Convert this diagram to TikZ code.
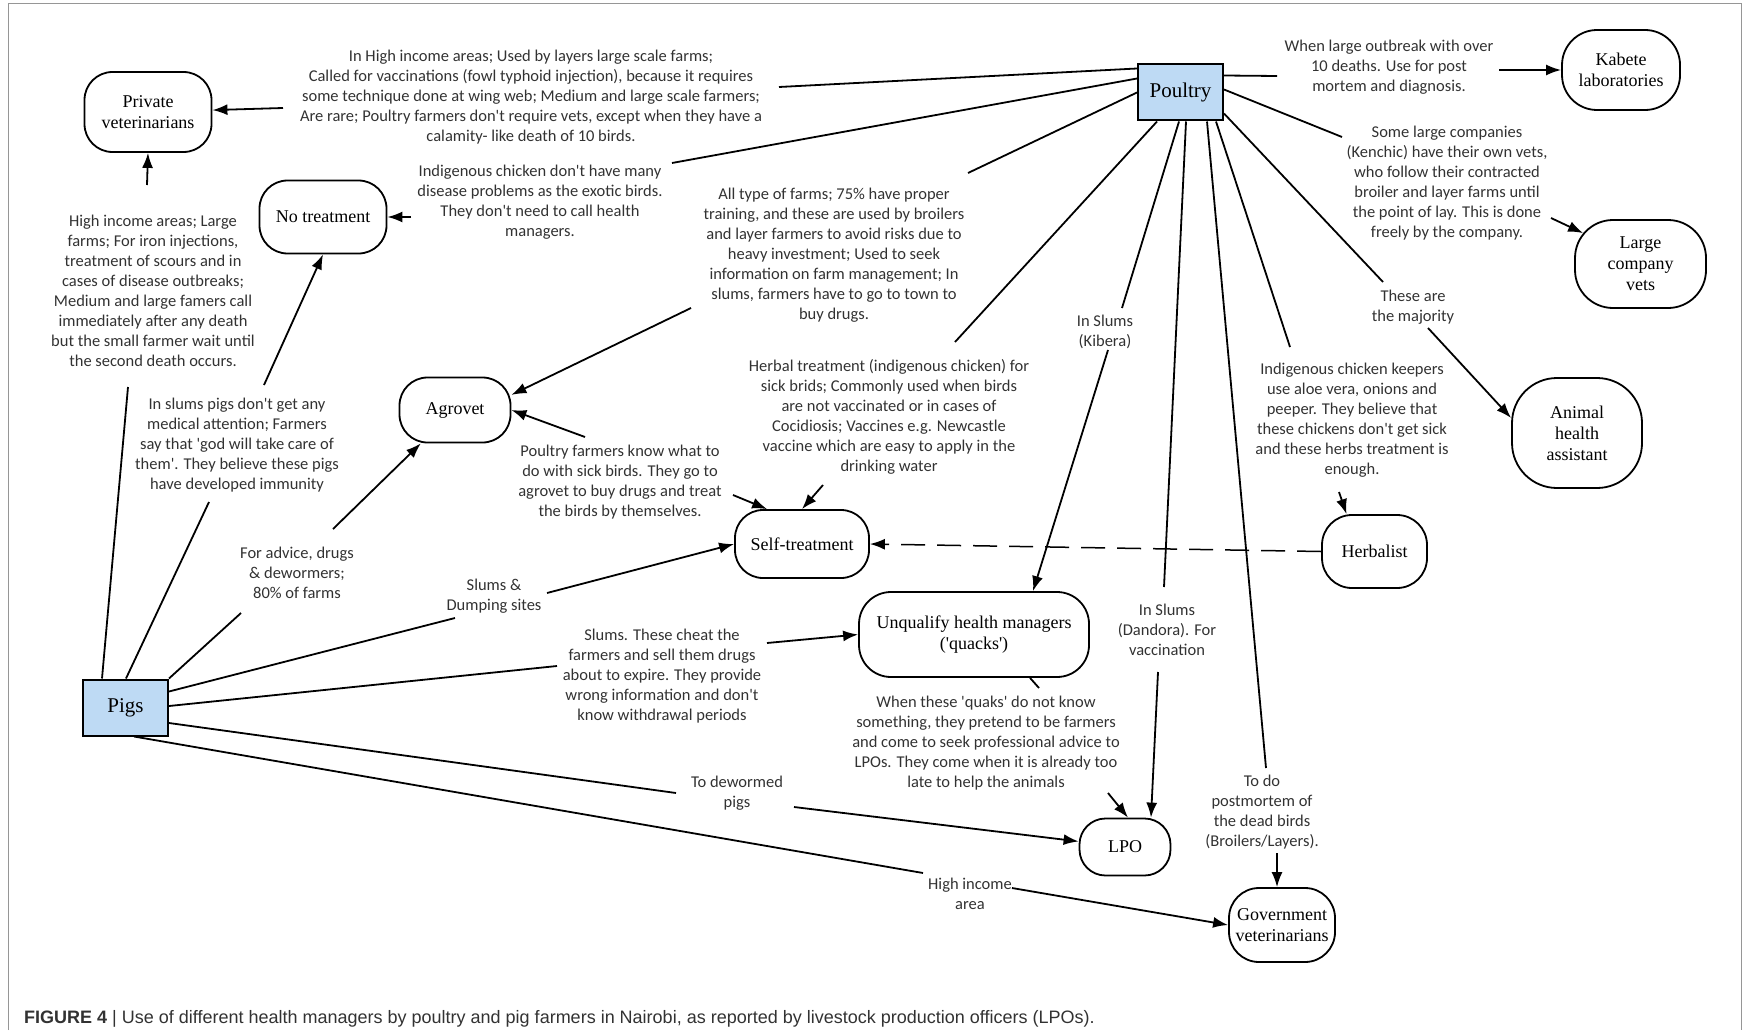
\documentclass[tikz,border=0pt]{standalone}
\usepackage{fontspec}
\setmainfont{Carlito}
\newfontfamily\nodefont{Liberation Serif}
\newfontfamily\capfont{Liberation Sans}
\usetikzlibrary{arrows.meta,calc}
\definecolor{boxblue}{RGB}{190,218,244}
\definecolor{labgray}{RGB}{50,50,50}
\definecolor{framegray}{RGB}{150,150,150}
\newcommand{\aps}{\textquotesingle}
\begin{document}
\begin{tikzpicture}[x=1pt,y=-1pt,
  lab/.style={font=\fontsize{16.5}{20}\selectfont, text=labgray, align=center, inner sep=0pt},
  hm/.style={draw, line width=1.8pt, font=\nodefont\fontsize{18}{21}\selectfont, align=center, inner sep=0pt, rectangle},
  src/.style={draw, line width=2pt, fill=boxblue, font=\nodefont\fontsize{21}{24}\selectfont, inner sep=0pt, minimum width=85pt, minimum height=56pt},
  conn/.style={line width=1.8pt},
  arr/.style={line width=1.8pt, -{Latex[length=15pt,width=11pt]}},
  dasharr/.style={line width=1.5pt, dash pattern=on 24pt off 12pt, -{Latex[length=15pt,width=11pt]}},
]
\useasboundingbox (0,0) rectangle (1744,1030);
\draw[framegray, line width=1pt] (8,1030) -- (8,4) -- (1741,4) -- (1741,1030);

% source boxes
\node[src] (poultry) at (1180.5,92.5) {Poultry};
\node[src] (pigs) at (125.5,707.5) {Pigs};

% health managers
\node[hm, minimum width=127pt, minimum height=80pt, rounded corners=28pt] (privvet) at (148,112) {Private\\veterinarians};
\node[hm, minimum width=127pt, minimum height=73pt, rounded corners=28pt] (notreat) at (323,217) {No treatment};
\node[hm, minimum width=111pt, minimum height=65pt, rounded corners=28pt] (agrovet) at (455,410) {Agrovet};
\node[hm, minimum width=134pt, minimum height=68pt, rounded corners=28pt] (selftreat) at (802,544) {Self-treatment};
\node[hm, minimum width=230pt, minimum height=85pt, rounded corners=32pt] (quacks) at (974,634.5) {Unqualify health managers\\(\aps quacks\aps)};
\node[hm, minimum width=91pt, minimum height=57pt, rounded corners=26pt] (lpo) at (1125,847) {LPO};
\node[hm, minimum width=106pt, minimum height=74pt, rounded corners=30pt] (govvet) at (1282,925) {Government\\veterinarians};
\node[hm, minimum width=105pt, minimum height=73pt, rounded corners=30pt] (herbalist) at (1374.5,551.5) {Herbalist};
\node[hm, minimum width=130pt, minimum height=110pt, rounded corners=45pt] (aha) at (1577,433) {Animal\\health\\assistant};
\node[hm, minimum width=131pt, minimum height=88pt, rounded corners=38pt] (lcv) at (1640.5,264) {Large\\company\\vets};
\node[hm, minimum width=118pt, minimum height=80pt, rounded corners=35pt] (kabete) at (1621,70) {Kabete\\laboratories};

% labels
\node[lab] (t1) at (531,97) {In High income areas; Used by layers large scale farms;\\Called for vaccinations (fowl typhoid injection), because it requires\\some technique done at wing web; Medium and large scale farmers;\\Are rare; Poultry farmers don\aps t require vets, except when they have a\\calamity- like death of 10 birds.};
\node[lab] (t2) at (540,202) {Indigenous chicken don\aps t have many\\disease problems as the exotic birds.\\They don\aps t need to call health\\managers.};
\node[lab] (t3) at (834,255) {All type of farms; 75\% have proper\\training, and these are used by broilers\\and layer farmers to avoid risks due to\\heavy investment; Used to seek\\information on farm management; In\\slums, farmers have to go to town to\\buy drugs.};
\node[lab] (t4) at (1105,332) {In Slums\\(Kibera)};
\node[lab] (t5) at (889,417) {Herbal treatment (indigenous chicken) for\\sick brids; Commonly used when birds\\are not vaccinated or in cases of\\Cocidiosis; Vaccines e.g. Newcastle\\vaccine which are easy to apply in the\\drinking water};
\node[lab] (t6) at (620,482) {Poultry farmers know what to\\do with sick birds. They go to\\agrovet to buy drugs and treat\\the birds by themselves.};
\node[lab] (t7) at (153,291) {High income areas; Large\\farms; For iron injections,\\treatment of scours and in\\cases of disease outbreaks;\\Medium and large famers call\\immediately after any death\\but the small farmer wait until\\the second death occurs.};
\node[lab] (t8) at (237,445) {In slums pigs don\aps t get any\\medical attention; Farmers\\say that \aps god will take care of\\them\aps . They believe these pigs\\have developed immunity};
\node[lab] (t9) at (297,573) {For advice, drugs\\\& dewormers;\\80\% of farms};
\node[lab] (t10) at (494,596) {Slums \&\\Dumping sites};
\node[lab] (t11) at (662,676) {Slums. These cheat the\\farmers and sell them drugs\\about to expire. They provide\\wrong information and don\aps t\\know withdrawal periods};
\node[lab] (t12) at (986,743) {When these \aps quaks\aps\ do not know\\something, they pretend to be farmers\\and come to seek professional advice to\\LPOs. They come when it is already too\\late to help the animals};
\node[lab] (t13) at (737,793) {To dewormed\\pigs};
\node[lab] (t14) at (1167,630) {In Slums\\(Dandora). For\\vaccination};
\node[lab] (t15) at (1262,812) {To do\\postmortem of\\the dead birds\\(Broilers/Layers).};
\node[lab] (t16) at (970,894) {High income\\area};
\node[lab] (t17) at (1352,420) {Indigenous chicken keepers\\use aloe vera, onions and\\peeper. They believe that\\these chickens don\aps t get sick\\and these herbs treatment is\\enough.};
\node[lab] (t18) at (1413,307) {These are\\the majority};
\node[lab] (t19) at (1447,183) {Some large companies\\(Kenchic) have their own vets,\\who follow their contracted\\broiler and layer farms until\\the point of lay. This is done\\freely by the company.};
\node[lab] (t20) at (1389,67) {When large outbreak with over\\10 deaths. Use for post\\mortem and diagnosis.};

% free ends of connectors
\coordinate (e1) at (779,87);
\coordinate (e2) at (672,163);
\coordinate (e3) at (968,173);
\coordinate (e4) at (955,342);
\coordinate (e5) at (1122,308);
\coordinate (e6) at (1164,587);
\coordinate (e7) at (1266,768);
\coordinate (e8) at (1290,347);
\coordinate (e9) at (1383,282);
\coordinate (e10) at (1342,137);
\coordinate (e11) at (1277,76);
\coordinate (s1) at (283,108);
\coordinate (s2) at (411,217);
\coordinate (s3) at (691,308);
\coordinate (s4) at (585,437);
\coordinate (s5) at (1499,70);
\coordinate (s6) at (1551,218);
\coordinate (s7) at (1428,328);
\coordinate (s8) at (1339,492);
\coordinate (s10) at (733,495);
\coordinate (s11) at (823,485);
\coordinate (s12) at (1108,350);
\coordinate (s14) at (1039,688);
\coordinate (s15) at (1108,793);
\coordinate (s15b) at (1158,672);
\coordinate (s18) at (1277,853);
\coordinate (g1) at (128,387);
\coordinate (h1) at (147,185);
\coordinate (g2) at (209,502);
\coordinate (h2) at (264,385);
\coordinate (g3) at (241,613);
\coordinate (h3) at (333,529);
\coordinate (g4) at (455,618);
\coordinate (h4) at (547,593);
\coordinate (g5) at (557,666);
\coordinate (h5) at (767,643);
\coordinate (g6) at (676,793);
\coordinate (h6) at (794,807);
\coordinate (g7) at (923,873);
\coordinate (h7) at (1012,888);

% poultry connectors
\draw[conn] ($(poultry.north west)+(0,5)$) -- (e1);
\draw[conn] ($(poultry.west)+(0,-14)$) -- (e2);
\draw[conn] (poultry.west) -- (e3);
\draw[conn] ($(poultry.south west)+(20,0)$) -- (e4);
\draw[conn] ($(poultry.south west)+(42,0)$) -- (e5);
\draw[conn] ($(poultry.south west)+(49,0)$) -- (e6);
\draw[conn] ($(poultry.south west)+(70,0)$) -- (e7);
\draw[conn] ($(poultry.south west)+(79,0)$) -- (e8);
\draw[conn] ($(poultry.south east)+(0,-8)$) -- (e9);
\draw[conn] ($(poultry.east)+(0,-3)$) -- (e10);
\draw[conn] ($(poultry.north east)+(0,12)$) -- (e11);

\draw[arr] (s1) -- (privvet);
\draw[arr] (s2) -- (notreat);
\draw[arr] (s3) -- (agrovet.15);
\draw[arr] (s4) -- (agrovet.east);
\draw[arr] (s5) -- (kabete);
\draw[arr] (s6) -- ($(lcv.north west)+(9,14)$);
\draw[arr] (s7) -- ($(aha.west)+(0,-15)$);
\draw[arr] (s8) -- ($(herbalist.north)+(-28,0)$);
\draw[dasharr] (herbalist.west) -- (selftreat.east);
\draw[arr] (s10) -- ($(selftreat.north west)+(33,0)$);
\draw[arr] (s11) -- (selftreat.north);
\draw[arr] (s12) -- ($(quacks.north)+(59,0)$);
\draw[conn] ($(quacks.south)+(56,0)$) -- (s14);
\draw[arr] (s15) -- ($(lpo.north)+(3,0)$);
\draw[arr] (s15b) -- ($(lpo.north)+(26,0)$);
\draw[arr] (s18) -- ($(govvet.north)+(-5,0)$);

% pig connectors
\draw[conn] ($(pigs.north west)+(20,0)$) -- (g1);
\draw[arr] (h1) -- (privvet.south);
\draw[conn] ($(pigs.north)+(0.5,0)$) -- (g2);
\draw[arr] (h2) -- (notreat.south);
\draw[conn] (pigs.north east) -- (g3);
\draw[arr] (h3) -- (agrovet);
\draw[conn] ($(pigs.north east)+(0,13)$) -- (g4);
\draw[arr] (h4) -- (selftreat.west);
\draw[conn] ($(pigs.east)+(0,-1.5)$) -- (g5);
\draw[arr] (h5) -- (quacks.west);
\draw[conn] ($(pigs.east)+(0,15.5)$) -- (g6);
\draw[arr] (h6) -- (lpo);
\draw[conn] ($(pigs.south)+(8.5,0)$) -- (g7);
\draw[arr] (h7) -- (govvet.west);

% caption
\node[anchor=base west, inner sep=0pt, font=\capfont\fontsize{18}{21}\selectfont, text=labgray] (caption) at (24,1023) {\textbf{FIGURE 4} | Use of different health managers by poultry and pig farmers in Nairobi, as reported by livestock production officers (LPOs).};
\end{tikzpicture}
\end{document}
